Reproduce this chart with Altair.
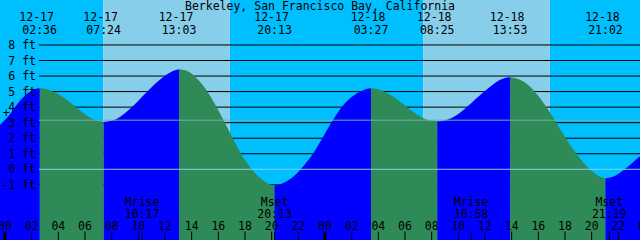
import altair as alt
import pandas as pd

# ---------------- values ----------------
title_text = "Berkeley, San Francisco Bay, California"

event_dates = ["12-17", "12-17", "12-17", "12-17", "12-18", "12-18", "12-18", "12-18"]
event_times = ["02:36", "07:24", "13:03", "20:13", "03:27", "08:25", "13:53", "21:02"]
event_feet = [5.21, 3.05, 6.43, -1.03, 5.21, 3.09, 5.92, -0.58]

# tide height readings between the extremes (hours after 12-17 00:00, feet)
curve_hours = [-0.375, 0.25, 1.0, 1.75, 2.2,
               3.2, 3.8, 4.4, 5.0, 5.6, 6.2, 6.8, 7.1,
               7.9, 8.5, 9.1, 9.7, 10.3, 10.9, 11.5, 12.1, 12.6,
               13.6, 14.2, 14.8, 15.4, 16.0, 16.6, 17.2, 17.8, 18.4, 19.0, 19.6, 19.95,
               20.7, 21.3, 21.9, 22.5, 23.1, 23.7, 24.3, 24.9, 25.5, 26.1, 26.7, 27.1,
               27.9, 28.5, 29.1, 29.7, 30.3, 30.9, 31.5, 32.0,
               32.9, 33.5, 34.1, 34.7, 35.3, 35.9, 36.5, 37.0, 37.45,
               38.4, 39.0, 39.6, 40.2, 40.8, 41.4, 42.0, 42.6, 43.2, 43.8, 44.4, 44.75,
               45.4, 45.9, 46.4, 47.0, 47.625]
curve_feet = [2.85, 3.42, 4.28, 4.92, 5.15,
              5.14, 4.93, 4.62, 4.22, 3.80, 3.42, 3.15, 3.07,
              3.10, 3.30, 3.68, 4.15, 4.68, 5.20, 5.68, 6.08, 6.32,
              6.35, 6.00, 5.45, 4.70, 3.80, 2.80, 1.80, 0.85, 0.12, -0.45, -0.85, -0.99,
              -0.95, -0.68, -0.25, 0.32, 1.00, 1.85, 2.75, 3.58, 4.25, 4.72, 5.02, 5.16,
              5.16, 4.98, 4.68, 4.30, 3.90, 3.52, 3.24, 3.12,
              3.13, 3.30, 3.62, 4.05, 4.52, 4.98, 5.40, 5.70, 5.86,
              5.84, 5.58, 5.12, 4.50, 3.75, 2.92, 2.08, 1.30, 0.62, 0.05, -0.36, -0.52,
              -0.53, -0.35, -0.05, 0.38, 0.84]

sun_days = [0, 0, 1, 1]
sun_times = ["07:22", "16:52", "07:22", "16:52"]   # sunrise, sunset, sunrise, sunset

moon_names = ["Mrise", "Mset", "Mrise", "Mset"]
moon_days = [0, 0, 1, 1]
moon_times = ["10:17", "20:13", "10:58", "21:19"]

grid_feet = [8, 7, 6, 5, 4, 3, 2, 1, -1]
label_feet = [8, 7, 6, 5, 4, 3, 2, 1, 0, -1]
datum_feet = [0]
msl_feet = [3.16]
plus_hour, plus_feet = [0.1], [3.54]
hour_ticks = list(range(0, 50, 2))
x_domain = [-0.375, 47.625]
y_domain = [-4.55, 10.894]

# ---------------- styling ----------------
FONT = "DejaVu Sans Mono"
FS = 11.5
NIGHT = "#00BFFF"
DAY = "#87CEEB"
FALL = "#2E8B57"
RISE = "#0000FF"


def to_h(day, t):
    hh, mm = t.split(":")
    return day * 24 + int(hh) + int(mm) / 60.0


date_day = {"12-17": 0, "12-18": 1}
ev_hours = [to_h(date_day[d], t) for d, t in zip(event_dates, event_times)]

xs = alt.Scale(domain=x_domain, nice=False, zero=False)
ys = alt.Scale(domain=y_domain, nice=False, zero=False)
X = lambda f="h": alt.X(f"{f}:Q", scale=xs, axis=None)
X2 = lambda f: alt.X2(f"{f}:Q")
Y = lambda f="ft": alt.Y(f"{f}:Q", scale=ys, axis=None, stack=None)

# sky periods
sun_h = [to_h(d, t) for d, t in zip(sun_days, sun_times)]
edges = [x_domain[0]] + sun_h + [x_domain[1]]
sky = pd.DataFrame({
    "h": edges[:-1], "h2": edges[1:],
    "kind": ["night", "day", "night", "day", "night"],
})
sky_night = alt.Chart(sky).transform_filter("datum.kind == 'night'").mark_rect(color=NIGHT).encode(
    x=X(), x2=X2("h2"), y=alt.value(0), y2=alt.value(240))
sky_day = alt.Chart(sky).transform_filter("datum.kind == 'day'").mark_rect(color=DAY).encode(
    x=X(), x2=X2("h2"), y=alt.value(0), y2=alt.value(240))

# grid lines
grid = alt.Chart(pd.DataFrame({"ft": grid_feet})).mark_rule(color="black", strokeWidth=1).encode(
    y=Y(), x=alt.value(39), x2=alt.value(640))

# tide area, split into rising / falling segments at the extremes
pts = sorted(list(zip(curve_hours, curve_feet)) + list(zip(ev_hours, event_feet)))
bounds = [x_domain[0] - 1] + ev_hours + [x_domain[1] + 1]
rows = []
for i in range(len(bounds) - 1):
    seg = [(h, f) for h, f in pts if bounds[i] - 1e-6 <= h <= bounds[i + 1] + 1e-6]
    if len(seg) < 2:
        continue
    direction = "rise" if seg[-1][1] > seg[0][1] else "fall"
    for h, f in seg:
        rows.append({"h": h, "ft": f, "seg": i, "dir": direction})
tide = pd.DataFrame(rows)
area_fall = alt.Chart(tide).transform_filter("datum.dir == 'fall'").mark_area(
    color=FALL, interpolate="monotone").encode(x=X(), y=Y(), y2=alt.value(240), detail="seg:N")
area_rise = alt.Chart(tide).transform_filter("datum.dir == 'rise'").mark_area(
    color=RISE, interpolate="monotone").encode(x=X(), y=Y(), y2=alt.value(240), detail="seg:N")

datum = alt.Chart(pd.DataFrame({"ft": datum_feet})).mark_rule(color="#87CEEB", strokeWidth=1).encode(
    y=Y(), x=alt.value(39), x2=alt.value(640))
msl = alt.Chart(pd.DataFrame({"ft": msl_feet})).mark_rule(color="#6FAFA0", strokeWidth=1).encode(
    y=Y(), x=alt.value(39), x2=alt.value(640))

txt = dict(font=FONT, fontSize=FS, color="black")

ylab = alt.Chart(pd.DataFrame({"ft": label_feet, "t": [f"{v} ft" for v in label_feet]})).mark_text(
    align="right", baseline="alphabetic", dy=4, **txt).encode(y=Y(), x=alt.value(36), text="t:N")
plus = alt.Chart(pd.DataFrame({"h": plus_hour, "ft": plus_feet})).mark_text(
    align="center", baseline="middle", **txt).encode(x=X(), y=Y(), text=alt.value("+"))

title = alt.Chart(pd.DataFrame({"t": [title_text]})).mark_text(
    align="center", baseline="alphabetic", **txt).encode(x=alt.value(320), y=alt.value(9.5), text="t:N")

ev = pd.DataFrame({"h": ev_hours, "d": event_dates, "t": event_times})
ev_date = alt.Chart(ev).mark_text(align="center", baseline="alphabetic", dx=-3, **txt).encode(
    x=X(), y=alt.value(20.8), text="d:N")
ev_time = alt.Chart(ev).mark_text(align="center", baseline="alphabetic", **txt).encode(
    x=X(), y=alt.value(34), text="t:N")

ht = pd.DataFrame({"h": hour_ticks, "t": [f"{h % 24:02d}" for h in hour_ticks],
                   "mid": [h % 24 == 0 for h in hour_ticks]})
tick_lab = alt.Chart(ht).mark_text(align="center", baseline="alphabetic", **txt).encode(
    x=X(), y=alt.value(230), text="t:N")
tick_thin = alt.Chart(ht).transform_filter("!datum.mid").mark_rule(color="black", strokeWidth=1).encode(
    x=X(), y=alt.value(231.5), y2=alt.value(240))
tick_thick = alt.Chart(ht).transform_filter("datum.mid").mark_rule(color="black", strokeWidth=3).encode(
    x=X(), y=alt.value(231.5), y2=alt.value(240))

mo = pd.DataFrame({"h": [to_h(d, t) for d, t in zip(moon_days, moon_times)],
                   "n": moon_names, "t": moon_times})
moon_n = alt.Chart(mo).mark_text(align="center", baseline="alphabetic", **txt).encode(
    x=X(), y=alt.value(206), text="n:N")
moon_t = alt.Chart(mo).mark_text(align="center", baseline="alphabetic", **txt).encode(
    x=X(), y=alt.value(217.5), text="t:N")
moon_tick = alt.Chart(mo).mark_rule(color="black", strokeWidth=1).encode(
    x=X(), y=alt.value(231.5), y2=alt.value(240))

chart = alt.layer(
    sky_night, sky_day, grid, area_fall, area_rise, datum, msl,
    ylab, plus, title, ev_date, ev_time,
    tick_thin, tick_thick, tick_lab, moon_n, moon_t, moon_tick,
).properties(
    width=640, height=240, padding=0,
    autosize=alt.AutoSizeParams(type="none"),
).configure_view(strokeWidth=0)

chart.save("out.html", embed_options={"renderer": "svg", "actions": False})
